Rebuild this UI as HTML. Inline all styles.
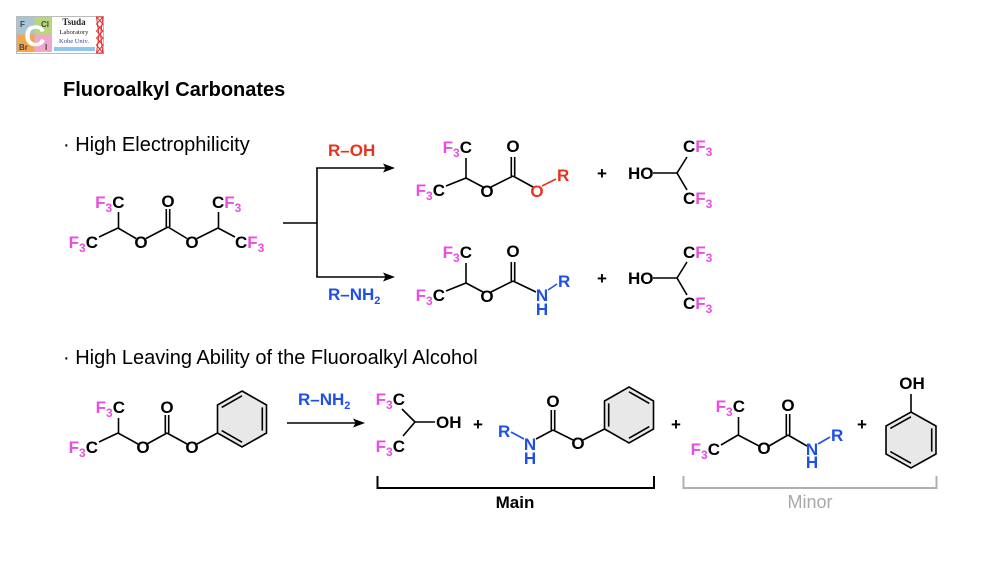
<!DOCTYPE html>
<html><head><meta charset="utf-8"><style>
html,body{margin:0;padding:0;background:#fff;}
svg{display:block;}
text{font-family:"Liberation Sans",Arial,sans-serif;}
.a{font-weight:bold;font-size:17px;}
.m{fill:#e84fe0;}
.r{fill:#e8331c;}
.b{fill:#1f4fe6;}
</style></head><body>
<svg width="1001" height="563" viewBox="0 0 1001 563" xmlns="http://www.w3.org/2000/svg">
<rect width="1001" height="563" fill="#fff"/>
<!-- Logo -->
<g>
<rect x="16.5" y="16.5" width="87" height="37" fill="#fff" stroke="#bbb" stroke-width="1"/>
<rect x="17" y="17" width="17.5" height="17.5" fill="#a9c4d6"/>
<rect x="34.5" y="17" width="17.5" height="17.5" fill="#b8d67a"/>
<rect x="17" y="34.5" width="17.5" height="17.5" fill="#f4a64c"/>
<rect x="34.5" y="34.5" width="17.5" height="17.5" fill="#f3a6cc"/>
<text x="35" y="46" font-size="30" font-weight="bold" fill="#fff" text-anchor="middle">C</text>
<text x="20" y="27" font-size="8" font-weight="bold" fill="#444">F</text>
<text x="41" y="27" font-size="8" font-weight="bold" fill="#444">Cl</text>
<text x="19" y="50" font-size="8" font-weight="bold" fill="#444">Br</text>
<text x="45" y="50" font-size="8" font-weight="bold" fill="#444">I</text>
<text x="74" y="25" font-size="9" font-weight="bold" fill="#222" text-anchor="middle" style="font-family:'Liberation Serif',serif">Tsuda</text>
<text x="74" y="34" font-size="6.5" fill="#222" text-anchor="middle" style="font-family:'Liberation Serif',serif">Laboratory</text>
<text x="74" y="43" font-size="6.5" fill="#3344aa" text-anchor="middle" style="font-family:'Liberation Serif',serif">Kobe Univ.</text>
<rect x="54" y="47" width="41" height="4" fill="#8ec8f0"/>
<g stroke="#e03030" stroke-width="1" fill="none">
<path d="M96.5 17 L103 17 L100.5 35 L103 53 L96.5 53 L99 35 Z"/>
<path d="M96.5 17 L103 24 L96.5 31 L103 38 L96.5 45 L103 53 M103 17 L96.5 24 L103 31 L96.5 38 L103 45 L96.5 53"/>
</g>
</g>

<!-- Title -->
<text x="63" y="96" font-size="20" font-weight="bold" fill="#000">Fluoroalkyl Carbonates</text>
<text x="63" y="151" font-size="20" fill="#000">· High Electrophilicity</text>
<text x="63" y="364" font-size="20" fill="#000">· High Leaving Ability of the Fluoroalkyl Alcohol</text>

<g stroke="#000" stroke-width="1.6" fill="none" stroke-linecap="butt">
<!-- Section 1 molecule -->
<line x1="118.5" y1="212" x2="118.5" y2="228"/>
<line x1="99" y1="237" x2="118" y2="228"/>
<line x1="118" y1="228" x2="136" y2="238.5"/>
<line x1="146" y1="238.5" x2="168" y2="227"/>
<line x1="166.3" y1="227" x2="166.3" y2="209"/>
<line x1="169.7" y1="227" x2="169.7" y2="209"/>
<line x1="168" y1="227" x2="187" y2="238.5"/>
<line x1="197" y1="238.5" x2="218" y2="228"/>
<line x1="218.5" y1="228" x2="218.5" y2="212"/>
<line x1="218" y1="228" x2="235" y2="237"/>
<!-- Section 1 arrows -->
<line x1="283" y1="223" x2="317" y2="223"/>
<line x1="317" y1="168" x2="317" y2="277"/>
<line x1="316.2" y1="168" x2="386" y2="168"/>
<line x1="316.2" y1="277" x2="386" y2="277"/>
<!-- top product -->
<line x1="466" y1="158" x2="466" y2="178"/>
<line x1="446" y1="186" x2="466" y2="178"/>
<line x1="466" y1="178" x2="483" y2="187"/>
<line x1="491" y1="187" x2="513" y2="176"/>
<line x1="511.3" y1="176" x2="511.3" y2="157"/>
<line x1="514.7" y1="176" x2="514.7" y2="157"/>
<line x1="513" y1="176" x2="533" y2="187"/>
<line x1="653" y1="173" x2="677" y2="173"/>
<line x1="677" y1="173" x2="687" y2="157"/>
<line x1="677" y1="173" x2="687" y2="190"/>
<!-- bottom product -->
<line x1="466" y1="263" x2="466" y2="283"/>
<line x1="446" y1="291" x2="466" y2="283"/>
<line x1="466" y1="283" x2="483" y2="292"/>
<line x1="491" y1="292" x2="513" y2="281"/>
<line x1="511.3" y1="281" x2="511.3" y2="262"/>
<line x1="514.7" y1="281" x2="514.7" y2="262"/>
<line x1="513" y1="281" x2="536" y2="292"/>
<line x1="653" y1="278" x2="677" y2="278"/>
<line x1="677" y1="278" x2="687" y2="262"/>
<line x1="677" y1="278" x2="687" y2="295"/>
<!-- Section 3 left molecule -->
<line x1="118.5" y1="418" x2="118.5" y2="433"/>
<line x1="99" y1="442" x2="118" y2="433"/>
<line x1="118" y1="433" x2="138" y2="444"/>
<line x1="147" y1="444" x2="167" y2="433"/>
<line x1="165.3" y1="433" x2="165.3" y2="415"/>
<line x1="168.7" y1="433" x2="168.7" y2="415"/>
<line x1="167" y1="433" x2="187" y2="444"/>
<line x1="197" y1="444" x2="217.5" y2="433"/>
<line x1="287" y1="423" x2="356" y2="423"/>
<!-- Main -->
<line x1="402" y1="409" x2="415" y2="422"/>
<line x1="403" y1="436" x2="415" y2="422"/>
<line x1="415" y1="422" x2="435" y2="422"/>
<line x1="536" y1="439" x2="553" y2="430"/>
<line x1="551.3" y1="430" x2="551.3" y2="410"/>
<line x1="554.7" y1="430" x2="554.7" y2="410"/>
<line x1="553" y1="430" x2="573" y2="440"/>
<line x1="583" y1="440" x2="604.5" y2="429"/>
<!-- Minor -->
<line x1="738.5" y1="417" x2="738.5" y2="435"/>
<line x1="721" y1="445" x2="738" y2="435"/>
<line x1="738" y1="435" x2="759" y2="446"/>
<line x1="769" y1="446" x2="788" y2="435"/>
<line x1="786.3" y1="435" x2="786.3" y2="414"/>
<line x1="789.7" y1="435" x2="789.7" y2="414"/>
<line x1="788" y1="435" x2="807" y2="446"/>
<line x1="911" y1="412" x2="911" y2="394"/>
</g>

<!-- colored short bonds -->
<line x1="542" y1="186" x2="556" y2="179" stroke="#e8331c" stroke-width="1.6"/>
<line x1="548" y1="290" x2="557" y2="284" stroke="#1f4fe6" stroke-width="1.6"/>
<line x1="511" y1="432" x2="524" y2="439" stroke="#1f4fe6" stroke-width="1.6"/>
<line x1="818" y1="444" x2="830" y2="437" stroke="#1f4fe6" stroke-width="1.6"/>

<!-- arrowheads -->
<polygon points="395,168 383,163.5 385.5,168 383,172.5" fill="#000"/>
<polygon points="395,277 383,272.5 385.5,277 383,281.5" fill="#000"/>
<polygon points="365,423 353,418.5 355.5,423 353,427.5" fill="#000"/>

<!-- Benzene rings -->
<g stroke="#000" stroke-width="1.6">
<polygon points="242,391 266.5,405 266.5,433 242,447 217.5,433 217.5,405" fill="#e8e8e8"/>
<line x1="221.7" y1="407.4" x2="242" y2="395.8"/>
<line x1="262.3" y1="407.4" x2="262.3" y2="430.6"/>
<line x1="242" y1="442.2" x2="221.7" y2="430.6"/>
<polygon points="629,387 653.5,401 653.5,429 629,443 604.5,429 604.5,401" fill="#e8e8e8"/>
<line x1="608.7" y1="403.4" x2="608.7" y2="426.6"/>
<line x1="629" y1="391.8" x2="649.3" y2="403.4"/>
<line x1="649.3" y1="426.6" x2="629" y2="438.2"/>
<polygon points="911,412 936,426 936,454 911,468 886,454 886,426" fill="#e8e8e8"/>
<line x1="890.3" y1="428.4" x2="911" y2="416.8"/>
<line x1="931.7" y1="428.4" x2="931.7" y2="451.6"/>
<line x1="911" y1="463.2" x2="890.3" y2="451.6"/>
</g>

<!-- Section 1 molecule labels -->
<text class="a" x="124.5" y="208" text-anchor="end"><tspan class="m">F</tspan><tspan class="m" font-size="12" dy="4">3</tspan><tspan dy="-4">C</tspan></text>
<text class="a" x="98" y="248" text-anchor="end"><tspan class="m">F</tspan><tspan class="m" font-size="12" dy="4">3</tspan><tspan dy="-4">C</tspan></text>
<text class="a" x="141" y="248" text-anchor="middle">O</text>
<text class="a" x="168" y="207" text-anchor="middle">O</text>
<text class="a" x="192" y="248" text-anchor="middle">O</text>
<text class="a" x="212" y="208">C<tspan class="m">F</tspan><tspan class="m" font-size="12" dy="4">3</tspan></text>
<text class="a" x="235" y="248">C<tspan class="m">F</tspan><tspan class="m" font-size="12" dy="4">3</tspan></text>

<text class="a r" x="328" y="156" font-size="16">R–OH</text>
<text class="a b" x="328" y="300" font-size="16">R–NH<tspan font-size="11" dy="4">2</tspan></text>

<!-- top product labels -->
<text class="a" x="472" y="153" text-anchor="end"><tspan class="m">F</tspan><tspan class="m" font-size="12" dy="4">3</tspan><tspan dy="-4">C</tspan></text>
<text class="a" x="445" y="196" text-anchor="end"><tspan class="m">F</tspan><tspan class="m" font-size="12" dy="4">3</tspan><tspan dy="-4">C</tspan></text>
<text class="a" x="487" y="197" text-anchor="middle">O</text>
<text class="a" x="513" y="152" text-anchor="middle">O</text>
<text class="a r" x="537" y="197" text-anchor="middle">O</text>
<text class="a r" x="557" y="181">R</text>
<text class="a" x="602" y="179" text-anchor="middle" font-size="16">+</text>
<text class="a" x="628" y="179">HO</text>
<text class="a" x="683" y="152">C<tspan class="m">F</tspan><tspan class="m" font-size="12" dy="4">3</tspan></text>
<text class="a" x="683" y="204">C<tspan class="m">F</tspan><tspan class="m" font-size="12" dy="4">3</tspan></text>

<!-- bottom product labels -->
<text class="a" x="472" y="258" text-anchor="end"><tspan class="m">F</tspan><tspan class="m" font-size="12" dy="4">3</tspan><tspan dy="-4">C</tspan></text>
<text class="a" x="445" y="301" text-anchor="end"><tspan class="m">F</tspan><tspan class="m" font-size="12" dy="4">3</tspan><tspan dy="-4">C</tspan></text>
<text class="a" x="487" y="302" text-anchor="middle">O</text>
<text class="a" x="513" y="257" text-anchor="middle">O</text>
<text class="a b" x="542" y="301" text-anchor="middle">N</text>
<text class="a b" x="542" y="315" text-anchor="middle">H</text>
<text class="a b" x="558" y="287">R</text>
<text class="a" x="602" y="284" text-anchor="middle" font-size="16">+</text>
<text class="a" x="628" y="284">HO</text>
<text class="a" x="683" y="258">C<tspan class="m">F</tspan><tspan class="m" font-size="12" dy="4">3</tspan></text>
<text class="a" x="683" y="309">C<tspan class="m">F</tspan><tspan class="m" font-size="12" dy="4">3</tspan></text>

<!-- Section 3 left labels -->
<text class="a" x="125" y="413" text-anchor="end"><tspan class="m">F</tspan><tspan class="m" font-size="12" dy="4">3</tspan><tspan dy="-4">C</tspan></text>
<text class="a" x="98" y="453" text-anchor="end"><tspan class="m">F</tspan><tspan class="m" font-size="12" dy="4">3</tspan><tspan dy="-4">C</tspan></text>
<text class="a" x="143" y="453" text-anchor="middle">O</text>
<text class="a" x="167" y="413" text-anchor="middle">O</text>
<text class="a" x="192" y="453" text-anchor="middle">O</text>
<text class="a b" x="298" y="405" font-size="16">R–NH<tspan font-size="11" dy="4">2</tspan></text>

<!-- Main labels -->
<text class="a" x="405" y="405" text-anchor="end"><tspan class="m">F</tspan><tspan class="m" font-size="12" dy="4">3</tspan><tspan dy="-4">C</tspan></text>
<text class="a" x="405" y="452" text-anchor="end"><tspan class="m">F</tspan><tspan class="m" font-size="12" dy="4">3</tspan><tspan dy="-4">C</tspan></text>
<text class="a" x="436" y="428">OH</text>
<text class="a" x="478" y="430" text-anchor="middle" font-size="16">+</text>
<text class="a b" x="498" y="437">R</text>
<text class="a b" x="530" y="450" text-anchor="middle">N</text>
<text class="a b" x="530" y="464" text-anchor="middle">H</text>
<text class="a" x="553" y="407" text-anchor="middle">O</text>
<text class="a" x="578" y="449" text-anchor="middle">O</text>

<!-- Minor labels -->
<text class="a" x="676" y="430" text-anchor="middle" font-size="16">+</text>
<text class="a" x="745" y="412" text-anchor="end"><tspan class="m">F</tspan><tspan class="m" font-size="12" dy="4">3</tspan><tspan dy="-4">C</tspan></text>
<text class="a" x="720" y="455" text-anchor="end"><tspan class="m">F</tspan><tspan class="m" font-size="12" dy="4">3</tspan><tspan dy="-4">C</tspan></text>
<text class="a" x="764" y="454" text-anchor="middle">O</text>
<text class="a" x="788" y="411" text-anchor="middle">O</text>
<text class="a b" x="812" y="455" text-anchor="middle">N</text>
<text class="a b" x="812" y="468" text-anchor="middle">H</text>
<text class="a b" x="831" y="441">R</text>
<text class="a" x="862" y="430" text-anchor="middle" font-size="16">+</text>
<text class="a" x="912" y="389" text-anchor="middle">OH</text>

<!-- Brackets -->
<polyline points="377.5,476 377.5,488 654,488 654,476" fill="none" stroke="#000" stroke-width="2"/>
<text x="515" y="508" font-size="17" font-weight="bold" text-anchor="middle" fill="#000">Main</text>
<polyline points="683.5,476 683.5,488 936.5,488 936.5,476" fill="none" stroke="#b0b0b0" stroke-width="2"/>
<text x="810" y="508" font-size="18" text-anchor="middle" fill="#a8a8a8">Minor</text>
</svg>
</body></html>
